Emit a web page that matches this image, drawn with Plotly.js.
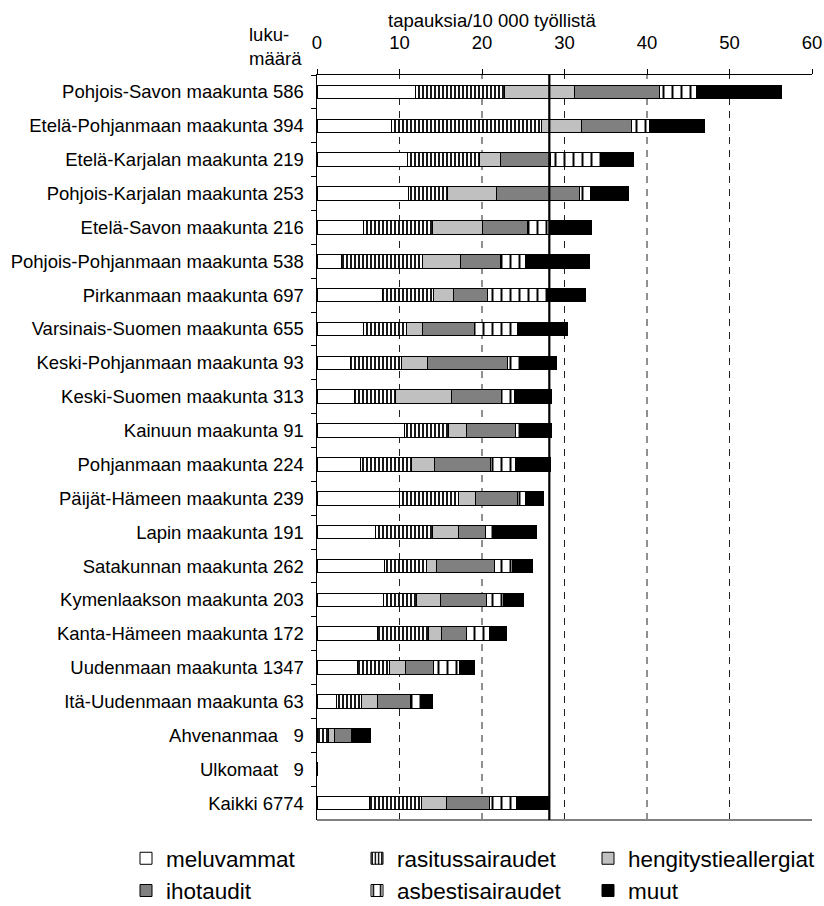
<!DOCTYPE html>
<html>
<head>
<meta charset="utf-8">
<script src="https://cdn.plot.ly/plotly-3.0.1.min.js"></script>
<style>html,body{margin:0;padding:0;background:#fff;}</style>
</head>
<body>
<div id="chart" style="width:824px;height:906px;"></div>
<script>
// Categories (top to bottom) and case counts (lukumäärä)
var regions = ["Pohjois-Savon maakunta", "Etelä-Pohjanmaan maakunta", "Etelä-Karjalan maakunta",
  "Pohjois-Karjalan maakunta", "Etelä-Savon maakunta", "Pohjois-Pohjanmaan maakunta",
  "Pirkanmaan maakunta", "Varsinais-Suomen maakunta", "Keski-Pohjanmaan maakunta",
  "Keski-Suomen maakunta", "Kainuun maakunta", "Pohjanmaan maakunta", "Päijät-Hämeen maakunta",
  "Lapin maakunta", "Satakunnan maakunta", "Kymenlaakson maakunta", "Kanta-Hämeen maakunta",
  "Uudenmaan maakunta", "Itä-Uudenmaan maakunta", "Ahvenanmaa", "Ulkomaat", "Kaikki"];
var counts = [586, 394, 219, 253, 216, 538, 697, 655, 93, 313, 91, 224, 239, 191, 262, 203, 172, 1347, 63, 9, 9, 6774];

// Rates per 10 000 employed, by disease group
var meluvammat      = [11.96, 9.05, 10.99, 11.15, 5.66, 2.95, 7.88, 5.66, 4.08, 4.57, 10.63, 5.25, 10.02, 7.07, 8.16, 8.08, 7.39, 4.85, 2.42, 0.00, 0, 6.38];
var rasitussairaudet = [10.79, 18.14, 8.73, 4.69, 8.36, 9.82, 6.30, 5.13, 6.22, 4.92, 5.33, 6.18, 7.15, 6.87, 5.09, 3.96, 6.10, 3.92, 2.95, 1.45, 0, 6.23];
var hengitystieallergiat = [8.48, 4.93, 2.54, 5.90, 6.10, 4.60, 2.35, 1.98, 3.15, 6.79, 2.14, 2.83, 2.06, 3.27, 1.21, 2.87, 1.58, 1.90, 1.98, 0.73, 0, 3.03];
var ihotaudit       = [10.30, 6.06, 6.10, 10.02, 5.42, 4.93, 4.12, 6.26, 9.66, 6.10, 5.94, 6.75, 5.05, 3.27, 7.08, 5.62, 3.07, 3.51, 3.96, 2.06, 0, 5.25];
var asbestisairaudet = [4.45, 2.10, 6.10, 1.45, 2.82, 2.95, 7.23, 5.29, 1.46, 1.54, 0.57, 2.99, 1.01, 0.97, 2.14, 2.10, 2.79, 3.07, 1.34, 0.00, 0, 3.27];
var muut            = [10.30, 6.63, 3.96, 4.57, 4.89, 7.76, 4.69, 6.02, 4.52, 4.56, 3.87, 4.36, 2.18, 5.10, 2.46, 2.42, 2.02, 1.90, 1.33, 2.22, 0, 4.00];

var seriesNames = ["meluvammat", "rasitussairaudet", "hengitystieallergiat", "ihotaudit", "asbestisairaudet", "muut"];
var xTicks = [0, 10, 20, 30, 40, 50, 60];

// Build y labels: region + count
var labels = regions.map(function (r, i) {
  if (r === "Ahvenanmaa" || r === "Ulkomaat") return r + "\u00a0\u00a0\u00a0" + counts[i];
  return r + " " + counts[i];
});

var outline = {color: "#000", width: 1};
var styles = [
  {color: "#ffffff", line: outline},
  {color: "#ffffff", line: outline, pattern: {shape: "|", fgcolor: "#000", bgcolor: "#fff", size: 4, solidity: 0.45, fillmode: "replace"}},
  {color: "#c0c0c0", line: outline},
  {color: "#808080", line: outline},
  {color: "#ffffff", line: outline, pattern: {shape: "|", fgcolor: "#000", bgcolor: "#fff", size: 9, solidity: 0.22, fillmode: "replace"}},
  {color: "#000000", line: outline}
];
var values = [meluvammat, rasitussairaudet, hengitystieallergiat, ihotaudit, asbestisairaudet, muut];

var traces = values.map(function (v, k) {
  return {
    type: "bar", orientation: "h", name: seriesNames[k],
    x: v, y: labels, marker: styles[k], hoverinfo: "x+name"
  };
});

// Average (Kaikki total)
var last = regions.length - 1;
var avg = values.reduce(function (s, arr) { return s + arr[last]; }, 0);

var shapes = [];
xTicks.slice(1, -1).forEach(function (t) {
  shapes.push({type: "line", xref: "x", yref: "paper", x0: t, x1: t, y0: 0, y1: 1,
    line: {color: "#222", width: 1, dash: "7px,6px"}, layer: "below"});
});
shapes.push({type: "line", xref: "paper", yref: "paper", x0: 0, x1: 1, y0: 0, y1: 0,
  line: {color: "#808080", width: 2}});
shapes.push({type: "line", xref: "x", yref: "paper", x0: avg, x1: avg, y0: 0, y1: 1,
  line: {color: "#000", width: 2.2}});

var F = "Liberation Sans, Arial, sans-serif";
var layout = {
  width: 824, height: 906,
  margin: {l: 317, r: 12, t: 75, b: 86, autoexpand: false},
  paper_bgcolor: "#fff", plot_bgcolor: "#fff",
  font: {family: F, size: 18.5, color: "#000"},
  barmode: "stack", bargap: 0.6,
  showlegend: true,
  xaxis: {
    side: "top", range: [0, 60], tickvals: xTicks, ticks: "outside", ticklen: 5,
    tickcolor: "#000", showline: true, linecolor: "#000", linewidth: 1,
    showgrid: false, zeroline: false, tickfont: {size: 18.5}, ticklabelstandoff: 13, fixedrange: true
  },
  yaxis: {
    type: "category", autorange: "reversed", ticks: "outside", tickson: "boundaries",
    ticklen: 5, tickcolor: "#000", showline: true, linecolor: "#000", linewidth: 1.5,
    showgrid: false, zeroline: false, tickfont: {size: 18.5}, ticklabelstandoff: 8, fixedrange: true
  },
  legend: {
    orientation: "h", xanchor: "left", yanchor: "top",
    x: (126 - 317) / 495, y: -0.023,
    entrywidth: 186, entrywidthmode: "pixels",
    font: {size: 22.5, family: F}, bgcolor: "rgba(0,0,0,0)", traceorder: "normal"
  },
  shapes: shapes,
  annotations: [
    {text: "tapauksia/10 000 työllistä", xref: "paper", yref: "paper",
     x: (492 - 317) / 495, y: 1 + (75 - 20) / 746, xanchor: "center", yanchor: "middle",
     showarrow: false, font: {size: 18.5}},
    {text: "luku-<br>määrä", xref: "paper", yref: "paper", align: "left",
     x: (247 - 317) / 495, y: 1 + (75 - 46) / 746, xanchor: "left", yanchor: "middle",
     showarrow: false, font: {size: 18.5}}
  ]
};

Plotly.newPlot("chart", traces, layout, {displayModeBar: false, staticPlot: true});
</script>
</body>
</html>
